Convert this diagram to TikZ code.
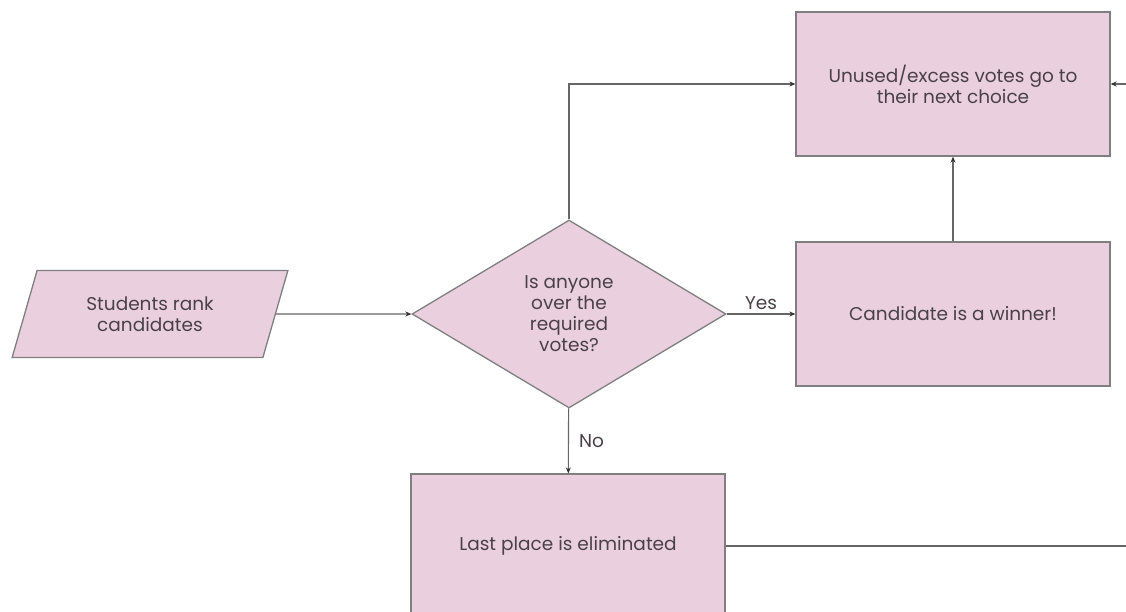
\documentclass[tikz,border=0pt]{standalone}
\usepackage{fontspec}
\setmainfont{Poppins}
\usetikzlibrary{shapes.geometric,arrows.meta}
\definecolor{boxfill}{HTML}{EAD0DE}
\definecolor{boxline}{HTML}{7F7F7F}
\definecolor{txt}{HTML}{4A4048}
\begin{document}
\begin{tikzpicture}[x=1pt,y=-1pt,
  base/.style={draw=boxline,fill=boxfill,line width=1.3pt,text=txt,font=\fontsize{18.5}{21}\selectfont,align=center,inner sep=0pt},
  procbox/.style={base,rectangle,minimum width=314pt,minimum height=144pt},
  decbox/.style={base,diamond,minimum width=314pt,minimum height=188pt},
  iobox/.style={base,trapezium,trapezium left angle=68,trapezium right angle=112,trapezium stretches=true,minimum width=276pt,minimum height=87pt},
  conn/.style={draw=boxline!80!black,line width=1.1pt},
  arr/.style={conn,-{Stealth[length=6pt,width=5pt,color=black!80]}},
  lbl/.style={text=txt,font=\fontsize{18.5}{20}\selectfont,inner sep=0pt}]
\useasboundingbox (0,0) rectangle (1126,611);
\clip (0,0) rectangle (1126,611);
\node[procbox] (top) at (953,84) {Unused/excess votes go to\\their next choice};
\node[procbox] (win) at (953,314) {Candidate is a winner!};
\node[decbox] (dec) at (569,314) {Is anyone\\over the\\required\\votes?};
\node[iobox] (stu) at (150,314) {Students rank\\candidates};
\node[procbox] (elim) at (568,546) {Last place is eliminated};
\coordinate (tl) at (569,84);
\coordinate (br) at (1150,546);
\coordinate (tr) at (1150,84);
\draw[arr] (stu) -- (dec);
\draw[arr] (dec) -- node[lbl,above=4pt] {Yes} (win);
\draw[arr] (dec) -- node[lbl,right=10pt] {No} (elim);
\draw[arr] (win) -- (top);
\draw[arr] (dec.north) -- (tl) -- (top.west);
\draw[conn] (elim.east) -- (br) -- (tr);
\draw[arr] (tr) -- (top.east);
\end{tikzpicture}
\end{document}
